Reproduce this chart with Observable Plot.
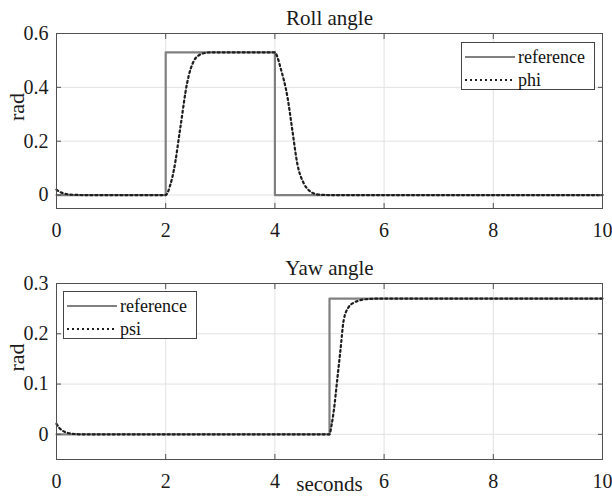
<!DOCTYPE html>
<html><head><meta charset="utf-8">
<script src="https://cdn.jsdelivr.net/npm/d3@7"></script>
<script src="https://cdn.jsdelivr.net/npm/@observablehq/plot@0.6"></script>
<style>
body{margin:0;background:#fff;}
#wrap{position:relative;width:612px;height:500px;font-family:"Liberation Serif","Times New Roman","DejaVu Serif",serif;}
.panel{position:absolute;left:0;width:612px;height:250px;}
.legend{position:absolute;background:#fff;border:1px solid #444;box-sizing:border-box;font-family:"Liberation Serif","Times New Roman","DejaVu Serif",serif;font-size:18px;color:#111;}
.legend .row{position:absolute;left:0;height:22px;display:flex;align-items:center;white-space:nowrap;}
.legend svg{margin-left:3px;margin-right:3px;}
</style></head><body>
<div id="wrap">
  <div id="top" class="panel" style="top:0"></div>
  <div id="bottom" class="panel" style="top:250px"></div>
</div>
<script>
// ---- data ----
const xTicks = [0, 2, 4, 6, 8, 10];
const rollYTicks = [0, 0.2, 0.4, 0.6];
const yawYTicks = [0, 0.1, 0.2, 0.3];

const rollRefT = [0, 2, 4, 10];
const rollRefV = [0, 0.53, 0, 0];
const phiT = [0, 0.05, 0.1, 0.15, 0.2, 0.3, 0.5, 2.0, 2.08, 2.15, 2.27, 2.39, 2.52, 2.6, 2.67, 2.82, 3.0, 4.0, 4.05, 4.1, 4.23, 4.32, 4.41, 4.53, 4.62, 4.71, 4.85, 5.0, 10];
const phiV = [0.02, 0.013, 0.008, 0.005, 0.003, 0.001, 0, 0, 0.035, 0.093, 0.253, 0.414, 0.5, 0.518, 0.525, 0.53, 0.53, 0.53, 0.51, 0.475, 0.364, 0.24, 0.117, 0.043, 0.018, 0.006, 0.001, 0, 0];

const yawRefT = [0, 5, 10];
const yawRefV = [0, 0.27, 0.27];
const psiT = [0, 0.05, 0.1, 0.15, 0.2, 0.3, 0.5, 5.0, 5.04, 5.08, 5.14, 5.2, 5.26, 5.35, 5.43, 5.51, 5.69, 6.0, 10];
const psiV = [0.021, 0.013, 0.008, 0.005, 0.003, 0.001, 0, 0, 0.02, 0.048, 0.107, 0.167, 0.227, 0.253, 0.261, 0.265, 0.269, 0.27, 0.27];

const zipTV = (T, V) => T.map((t, i) => ({t, v: V[i]}));

const FONT = '"Liberation Serif","Times New Roman","DejaVu Serif",serif';
const FRAME = "#505050";
const GRID = "#e2e2e2";
const REF = "#808080";
const SIM = "#1e1e1e";
const TXT = "#1a1a1a";

function panel({title, yDomain, yTicks, ref, sim, xLabel}) {
  return Plot.plot({
    width: 612, height: 250,
    marginLeft: 56, marginRight: 10, marginTop: 33, marginBottom: xLabel ? 41 : 42,
    style: {fontFamily: FONT, color: TXT, background: "#fff", overflow: "visible"},
    x: {domain: [0, 10], ticks: xTicks},
    y: {domain: yDomain, ticks: yTicks},
    marks: [
      Plot.gridX(xTicks, {stroke: GRID, strokeOpacity: 1}),
      Plot.gridY(yTicks, {stroke: GRID, strokeOpacity: 1}),
      Plot.line(ref, {x: "t", y: "v", curve: "step-after", stroke: REF, strokeWidth: 2.2}),
      Plot.line(sim, {x: "t", y: "v", curve: "monotone-x", stroke: SIM, strokeWidth: 2.2, strokeDasharray: "2,3"}),
      Plot.frame({stroke: FRAME}),
      Plot.axisX(xTicks, {anchor: "bottom", tickSize: -5, tickPadding: 19, fontSize: 20, fontFamily: FONT, fill: TXT, stroke: FRAME, label: null}),
      Plot.axisX(xTicks, {anchor: "top", tickSize: -5, tickFormat: () => "", stroke: FRAME, label: null}),
      Plot.axisY(yTicks, {anchor: "left", tickSize: -5, tickPadding: 13, fontSize: 20, fontFamily: FONT, fill: TXT, stroke: FRAME, label: null, tickFormat: d => d === 0 ? "0" : String(d)}),
      Plot.axisY(yTicks, {anchor: "right", tickSize: -5, tickFormat: () => "", stroke: FRAME, label: null}),
      Plot.text([title], {frameAnchor: "top", lineAnchor: "bottom", dy: -9, fontSize: 21, fontFamily: FONT, fill: TXT}),
      Plot.text(["rad"], {frameAnchor: "left", rotate: -90, dx: -40, fontSize: 22, fontFamily: FONT, fill: TXT}),
      ...(xLabel ? [Plot.text([xLabel], {frameAnchor: "bottom", lineAnchor: "top", dy: 17, fontSize: 21, fontFamily: FONT, fill: TXT})] : [])
    ]
  });
}

document.getElementById("top").append(panel({
  title: "Roll angle", yDomain: [-0.05, 0.6], yTicks: rollYTicks,
  ref: zipTV(rollRefT, rollRefV), sim: zipTV(phiT, phiV)
}));
document.getElementById("bottom").append(panel({
  title: "Yaw angle", yDomain: [-0.05, 0.3], yTicks: yawYTicks,
  ref: zipTV(yawRefT, yawRefV), sim: zipTV(psiT, psiV), xLabel: "seconds"
}));

function legend(left, top, names) {
  const div = document.createElement("div");
  div.className = "legend";
  Object.assign(div.style, {left: left + "px", top: top + "px", width: "134px", height: "48px"});
  const styles = [{stroke: REF, dash: null, w: 2.2}, {stroke: SIM, dash: "2,3", w: 2.2}];
  names.forEach((n, i) => {
    const row = document.createElement("div");
    row.className = "row";
    row.style.top = (3 + i * 23) + "px";
    row.innerHTML = `<svg width="50" height="6"><line x1="0" x2="50" y1="3" y2="3" stroke="${styles[i].stroke}" stroke-width="${styles[i].w}" ${styles[i].dash ? `stroke-dasharray="${styles[i].dash}"` : ""}/></svg><span>${n}</span>`;
    div.append(row);
  });
  document.getElementById("wrap").append(div);
}
legend(461, 42, ["reference", "phi"]);
legend(63, 291, ["reference", "psi"]);
</script>
</body></html>
